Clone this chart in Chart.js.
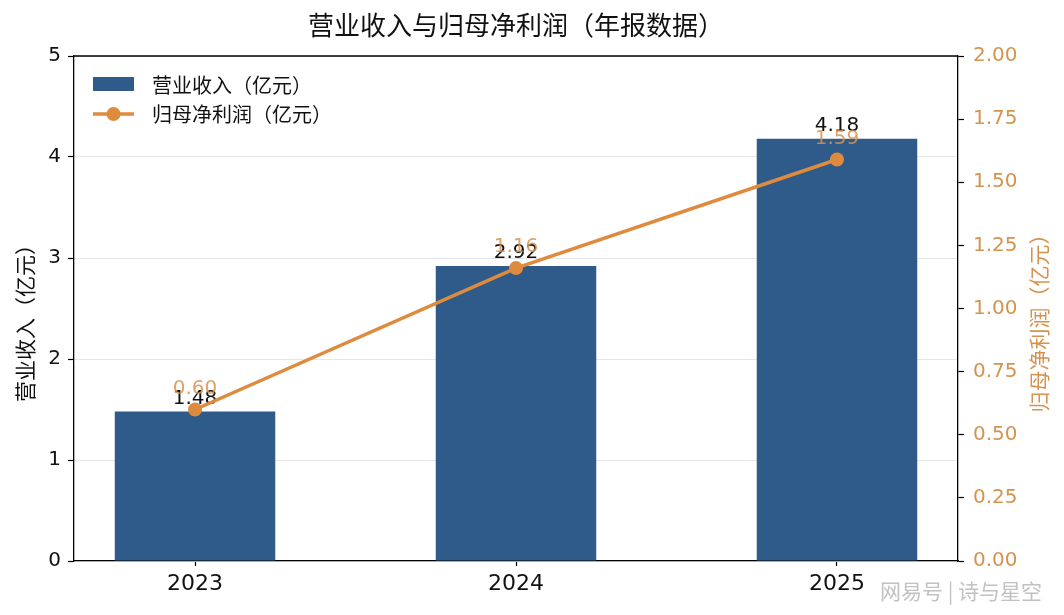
<!DOCTYPE html>
<html>
<head>
<meta charset="utf-8">
<script src="https://cdn.jsdelivr.net/npm/chart.js@4/dist/chart.umd.min.js"></script>
<style>
  body { margin: 0; background: #fff; }
  #wrap { width: 1064px; height: 615px; }
</style>
</head>
<body>
<div id="wrap"><canvas id="myChart" width="1064" height="615"></canvas></div>
<script>
var years = ["2023", "2024", "2025"];
var revenue = [1.48, 2.92, 4.18];     // 营业收入（亿元）
var netProfit = [0.60, 1.16, 1.59];   // 归母净利润（亿元）
var leftTicks = [0, 1, 2, 3, 4, 5];
var rightTicks = [0, 0.25, 0.5, 0.75, 1, 1.25, 1.5, 1.75, 2];

var CJK = '"Noto Sans CJK SC", sans-serif';
var NUM = '"DejaVu Sans", "Noto Sans CJK SC", sans-serif';
var barColor = "#2E5B8A";
var lineColor = "#DF8B3E";
var labelOrange = "rgba(217,146,78,0.85)";
var tickOrange = "#D4944F";

// labels, legend, titles, top spine
var extras = {
  id: "extras",
  afterDatasetDraw: function(chart, args) {
    if (args.index !== 0) return;
    var ctx = chart.ctx;
    ctx.save();
    ctx.font = "20px " + NUM;
    ctx.textAlign = "center";
    ctx.textBaseline = "middle";
    chart.getDatasetMeta(0).data.forEach(function(bar, i) {
      ctx.fillStyle = "#111";
      ctx.fillText(revenue[i].toFixed(2), bar.x, bar.y - 13);
    });
    chart.getDatasetMeta(1).data.forEach(function(pt, i) {
      ctx.fillStyle = labelOrange;
      ctx.fillText(netProfit[i].toFixed(2), pt.x, pt.y - 21);
    });
    ctx.restore();
  },
  afterDraw: function(chart) {
    var ctx = chart.ctx;
    var a = chart.chartArea;
    ctx.save();
    // top spine
    ctx.strokeStyle = "#000";
    ctx.lineWidth = 1.3;
    ctx.beginPath();
    ctx.moveTo(a.left, a.top);
    ctx.lineTo(a.right, a.top);
    ctx.stroke();

    // title
    ctx.fillStyle = "#111";
    ctx.font = "26px " + CJK;
    ctx.textAlign = "center";
    ctx.textBaseline = "middle";
    ctx.fillText("营业收入与归母净利润（年报数据）", (a.left + a.right) / 2, 25);

    // axis titles
    var midY = 318;
    ctx.font = "21px " + CJK;
    ctx.save();
    ctx.translate(25, midY);
    ctx.rotate(-Math.PI / 2);
    ctx.fillStyle = "#111";
    ctx.fillText("营业收入（亿元）", 0, 0);
    ctx.restore();
    ctx.save();
    ctx.translate(1039, midY);
    ctx.rotate(-Math.PI / 2);
    ctx.fillStyle = tickOrange;
    ctx.fillText("归母净利润（亿元）", 0, 0);
    ctx.restore();

    // legend
    ctx.font = "20px " + CJK;
    ctx.textAlign = "left";
    ctx.fillStyle = barColor;
    ctx.fillRect(93, 77, 41, 14);
    ctx.fillStyle = "#111";
    ctx.fillText("营业收入（亿元）", 152, 85);
    ctx.strokeStyle = lineColor;
    ctx.lineWidth = 3.5;
    ctx.beginPath();
    ctx.moveTo(93, 114);
    ctx.lineTo(134, 114);
    ctx.stroke();
    ctx.fillStyle = lineColor;
    ctx.beginPath();
    ctx.arc(113.5, 114, 7, 0, Math.PI * 2);
    ctx.fill();
    ctx.fillStyle = "#111";
    ctx.fillText("归母净利润（亿元）", 152, 114);

    // watermark
    ctx.font = "21px " + CJK;
    ctx.fillStyle = "#c2c2c2";
    ctx.textAlign = "left";
    ctx.fillText("网易号 | 诗与星空", 880, 591);
    ctx.restore();
  }
};

var ctx = document.getElementById("myChart");
var myChart = new Chart(ctx, {
  type: "bar",
  data: {
    datasets: [
      {
        type: "bar",
        label: "营业收入（亿元）",
        data: revenue.map(function(v, i) { return { x: i, y: v }; }),
        backgroundColor: barColor,
        borderWidth: 0,
        barPercentage: 0.5,
        categoryPercentage: 1,
        yAxisID: "y",
        order: 2
      },
      {
        type: "line",
        label: "归母净利润（亿元）",
        data: netProfit.map(function(v, i) { return { x: i, y: v }; }),
        borderColor: lineColor,
        backgroundColor: lineColor,
        borderWidth: 3.5,
        pointRadius: 7,
        pointHoverRadius: 7,
        pointBorderWidth: 0,
        yAxisID: "y1",
        order: 1
      }
    ]
  },
  options: {
    responsive: false,
    animation: false,
    devicePixelRatio: 1,
    layout: { padding: { top: 56, left: 0, right: 0, bottom: 0 } },
    plugins: {
      legend: { display: false },
      title: { display: false },
      tooltip: { enabled: false }
    },
    scales: {
      x: {
        type: "linear",
        offset: false,
        min: -0.377,
        max: 2.377,
        afterBuildTicks: function(scale) {
          scale.ticks = years.map(function(y, i) { return { value: i }; });
        },
        afterFit: function(scale) { scale.height = 54; },
        ticks: {
          callback: function(v) { return years[v]; },
          color: "#111",
          font: { size: 22, family: NUM },
          padding: 5,
          maxRotation: 0
        },
        grid: { offset: false, drawOnChartArea: false, tickColor: "#000", tickLength: 5, tickWidth: 1.2 },
        border: { color: "#000", width: 1.3 }
      },
      y: {
        position: "left",
        min: 0,
        max: 5,
        afterBuildTicks: function(scale) {
          scale.ticks = leftTicks.map(function(v) { return { value: v }; });
        },
        afterFit: function(scale) { scale.width = 74; },
        ticks: {
          color: "#111",
          font: { size: 20, family: NUM },
          padding: 7
        },
        grid: { color: "#e6e6e6", lineWidth: 1, tickColor: "#000", tickLength: 6, tickWidth: 1.2 },
        border: { color: "#000", width: 1.3 }
      },
      y1: {
        position: "right",
        min: 0,
        max: 2,
        afterBuildTicks: function(scale) {
          scale.ticks = rightTicks.map(function(v) { return { value: v }; });
        },
        afterFit: function(scale) { scale.width = 106; },
        ticks: {
          color: tickOrange,
          font: { size: 20, family: NUM },
          padding: 9,
          callback: function(v) { return Number(v).toFixed(2); }
        },
        grid: { drawOnChartArea: false, tickColor: "#000", tickLength: 6, tickWidth: 1.2 },
        border: { color: "#000", width: 1.3 }
      }
    }
  },
  plugins: [extras]
});
</script>
</body>
</html>
